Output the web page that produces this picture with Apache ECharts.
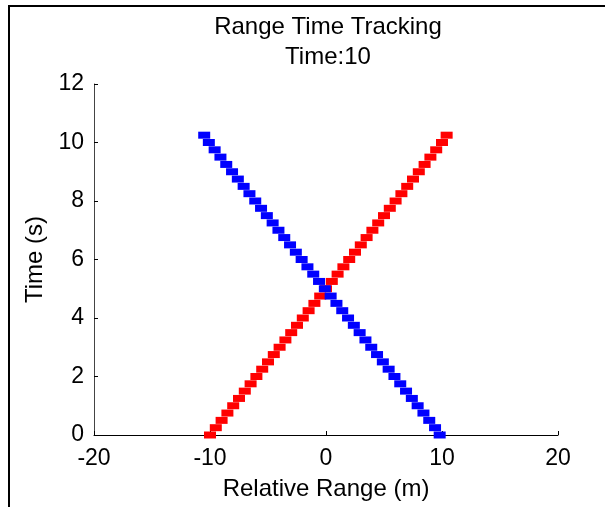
<!DOCTYPE html>
<html>
<head>
<meta charset="utf-8">
<script src="https://cdn.jsdelivr.net/npm/echarts@6/dist/echarts.min.js"></script>
<style>html,body{margin:0;padding:0;background:#fff}#c{width:605px;height:507px}</style>
</head>
<body>
<div id="c"></div>
<script>
var times = [0,0.25,0.5,0.75,1,1.25,1.5,1.75,2,2.25,2.5,2.75,3,3.25,3.5,3.75,4,4.25,4.5,4.75,5,5.25,5.5,5.75,6,6.25,6.5,6.75,7,7.25,7.5,7.75,8,8.25,8.5,8.75,9,9.25,9.5,9.75,10,10.25];
var redRange = [-10.0,-9.5,-9.0,-8.5,-8.0,-7.5,-7.0,-6.5,-6.0,-5.5,-5.0,-4.5,-4.0,-3.5,-3.0,-2.5,-2.0,-1.5,-1.0,-0.5,0.0,0.5,1.0,1.5,2.0,2.5,3.0,3.5,4.0,4.5,5.0,5.5,6.0,6.5,7.0,7.5,8.0,8.5,9.0,9.5,10.0,10.4];
var blueRange = [9.8,9.4,8.9,8.4,7.9,7.4,6.9,6.4,5.9,5.4,4.9,4.4,3.9,3.4,2.9,2.4,1.9,1.4,0.9,0.4,-0.1,-0.6,-1.1,-1.6,-2.1,-2.6,-3.1,-3.6,-4.1,-4.6,-5.1,-5.6,-6.1,-6.6,-7.1,-7.6,-8.1,-8.6,-9.1,-9.6,-10.1,-10.5];
var xTicks = [-20,-10,0,10,20];
var yTicks = [0,2,4,6,8,10,12];

function pairs(xs, ts){ return xs.map(function(x,i){ return [x, ts[i]]; }); }

var chart = echarts.init(document.getElementById('c'), null, {renderer:'canvas'});
var font = 'Arial, "Liberation Sans", sans-serif';
chart.setOption({
  animation:false,
  backgroundColor:'#fff',
  title:{
    text:'Range Time Tracking\nTime:10',
    left:323, top:7, textAlign:'center',
    textStyle:{fontFamily:font, fontSize:24, fontWeight:'normal', color:'#000', lineHeight:30}
  },
  grid:{left:94, right:47, top:84, bottom:72, containLabel:false},
  xAxis:{
    type:'value', min:xTicks[0], max:xTicks[xTicks.length-1], interval:10,
    name:'Relative Range (m)', nameLocation:'middle', nameGap:42,
    nameTextStyle:{fontFamily:font, fontSize:24, color:'#000'},
    axisLine:{onZero:false, lineStyle:{color:'#000', width:1}},
    axisTick:{inside:true, length:4, lineStyle:{color:'#000'}},
    axisLabel:{fontFamily:font, fontSize:23, color:'#000', margin:12},
    splitLine:{show:false}
  },
  yAxis:{
    type:'value', min:yTicks[0], max:yTicks[yTicks.length-1], interval:2,
    name:'Time (s)', nameLocation:'middle', nameGap:47, nameRotate:90,
    nameTextStyle:{fontFamily:font, fontSize:24, color:'#000'},
    axisLine:{show:true, onZero:false, lineStyle:{color:'#444', width:1}},
    axisTick:{show:true, inside:true, length:4, lineStyle:{color:'#000'}},
    axisLabel:{fontFamily:font, fontSize:23, color:'#000', margin:10},
    splitLine:{show:false}
  },
  series:[
    {type:'scatter', data:pairs(redRange, times), symbol:'rect', symbolSize:[12,7],
     itemStyle:{color:'#ff0000', opacity:1}},
    {type:'scatter', data:pairs(blueRange, times), symbol:'rect', symbolSize:[12,7],
     itemStyle:{color:'#0000ff', opacity:1}}
  ],
  graphic:[
    {type:'line', shape:{x1:9, y1:6, x2:9, y2:507}, style:{stroke:'#000', lineWidth:2}},
    {type:'line', shape:{x1:8, y1:6, x2:605, y2:6}, style:{stroke:'#000', lineWidth:2}}
  ]
});
</script>
</body>
</html>
